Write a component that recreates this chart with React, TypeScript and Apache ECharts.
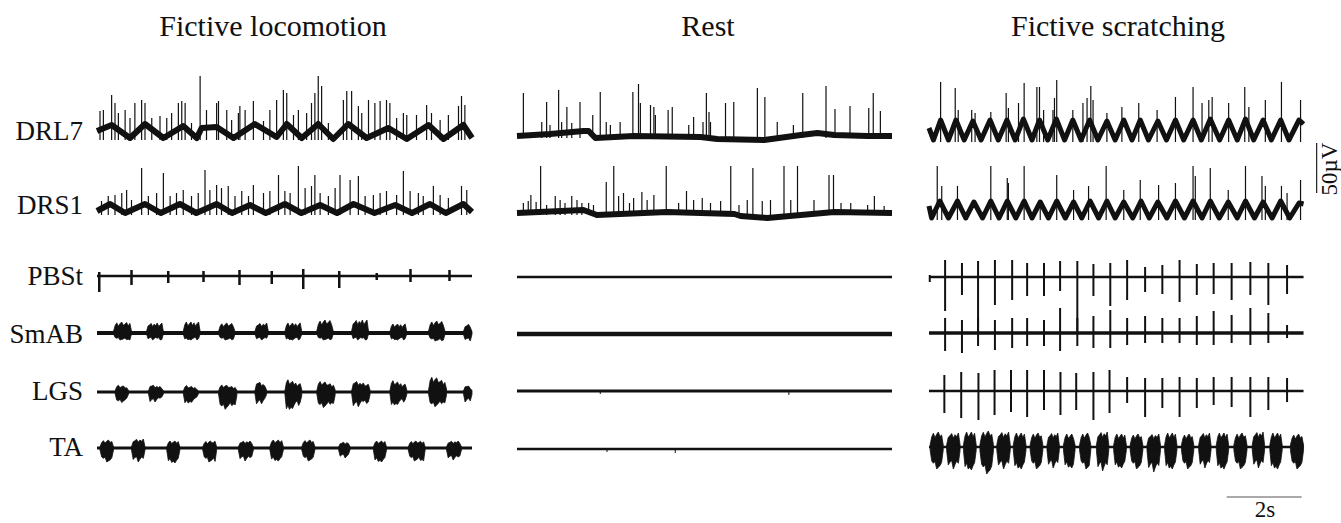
import React, { useEffect, useRef } from "react";
import * as echarts from "echarts";

// ---------- categories ----------
const panelTitles = ["Fictive locomotion", "Rest", "Fictive scratching"];
const channelNames = ["DRL7", "DRS1", "PBSt", "SmAB", "LGS", "TA"];

// ---------- scale bars ----------
const scaleBarSeconds = 2;
const scaleBarMicroVolts = 50;
const scaleBarLabels = ["2s", "50µV"];

// ---------- Fictive locomotion ----------
// slow waves: [time s, µV above trough]
const locoDRL7Wave = [[0, 7], [0.39, 13], [0.88, 0], [1.28, 14], [1.77, 0], [2.3, 12], [2.66, 0], [2.79, 10], [3.19, 11], [3.64, 0], [4.21, 14], [4.79, 1], [5.06, 14], [5.46, 0], [5.9, 14], [6.3, -1], [6.7, 14], [7.19, 0], [7.77, 10], [8.26, -1], [8.84, 13], [9.24, -1], [9.77, 13], [10, 0]];
// spikes: [time s, peak µV]
const locoDRL7Spikes = [[0.08, 27], [0.17, 28], [0.39, 43], [0.48, 35], [0.57, 25], [0.75, 28], [0.88, 20], [1.01, 35], [1.19, 38], [1.28, 35], [1.46, 20], [1.68, 22], [1.86, 20], [1.99, 25], [2.17, 35], [2.26, 37], [2.35, 35], [2.52, 15], [2.75, 62], [2.92, 28], [3.19, 35], [3.24, 37], [3.46, 28], [3.59, 18], [3.77, 25], [3.81, 32], [3.95, 28], [4.17, 37], [4.44, 17], [4.61, 28], [4.79, 38], [4.97, 48], [5.06, 45], [5.24, 23], [5.37, 28], [5.59, 25], [5.72, 35], [5.81, 45], [5.9, 62], [5.99, 52], [6.17, 15], [6.57, 38], [6.66, 47], [6.79, 47], [6.97, 32], [7.06, 25], [7.24, 38], [7.41, 35], [7.55, 37], [7.72, 38], [7.81, 35], [7.99, 20], [8.17, 25], [8.26, 23], [8.52, 23], [8.79, 33], [8.92, 25], [9.15, 18], [9.37, 23], [9.64, 32], [9.72, 42], [9.81, 33]];
const locoDRS1Wave = [[0, 2], [0.35, 9], [0.75, 0], [1.28, 9], [1.7, 0], [2.21, 9], [2.65, 0], [3.19, 9], [3.6, 0], [4.08, 8], [4.5, 0], [5.01, 9], [5.45, 0], [5.95, 8], [6.4, 0], [6.84, 9], [7.4, 0], [7.95, 8], [8.4, 0], [8.88, 9], [9.3, 0], [9.77, 9], [10, 1]];
const locoDRS1Spikes = [[0.12, 12], [0.3, 17], [0.48, 18], [0.66, 20], [0.79, 23], [0.92, 13], [1.19, 45], [1.37, 17], [1.59, 20], [1.77, 40], [1.95, 17], [2.12, 20], [2.3, 23], [2.52, 17], [2.7, 20], [2.88, 43], [3.01, 23], [3.19, 28], [3.32, 25], [3.5, 27], [3.68, 17], [3.86, 22], [4.04, 17], [4.17, 28], [4.44, 20], [4.61, 22], [4.84, 38], [5.01, 22], [5.15, 20], [5.37, 47], [5.55, 25], [5.72, 27], [5.81, 38], [5.95, 20], [6.17, 17], [6.35, 25], [6.48, 38], [6.75, 33], [6.97, 37], [7.15, 17], [7.37, 18], [7.55, 20], [7.72, 22], [7.99, 18], [8.17, 42], [8.35, 22], [8.57, 20], [8.7, 17], [8.97, 27], [9.15, 18], [9.37, 15], [9.72, 27], [9.86, 23]];
// EMG spikes: [time s, up µV, down µV]
const locoPBStSpikes = [[0.06, 4, 16], [0.92, 6, 9], [1.9, 5, 7], [2.84, 5, 6], [3.8, 6, 9], [4.66, 5, 8], [5.5, 7, 13], [6.46, 5, 12], [7.46, 3, 4], [8.36, 7, 6], [9.4, 6, 5]];
// EMG bursts: [start s, end s, up µV, down µV]
const locoSmABBursts = [[0.44, 0.92, 11, 7], [1.32, 1.77, 10, 7], [2.3, 2.75, 11, 7], [3.24, 3.68, 10, 7], [4.21, 4.57, 10, 7], [5.01, 5.46, 10, 7], [5.86, 6.3, 13, 7], [6.79, 7.24, 13, 7], [7.81, 8.26, 9, 7], [8.84, 9.28, 12, 8], [9.77, 10, 9, 8]];
const locoLGSBursts = [[0.48, 0.84, 8, 13], [1.37, 1.77, 8, 12], [2.3, 2.7, 7, 13], [3.24, 3.73, 8, 20], [4.21, 4.52, 12, 15], [5.01, 5.46, 13, 20], [5.86, 6.35, 12, 18], [6.79, 7.28, 12, 17], [7.81, 8.26, 12, 15], [8.84, 9.32, 17, 17], [9.77, 10, 8, 13]];
const locoTABursts = [[0.08, 0.44, 8, 14], [0.92, 1.28, 9, 14], [1.86, 2.21, 7, 15], [2.82, 3.19, 7, 14], [3.77, 4.17, 7, 13], [4.61, 4.97, 8, 13], [5.46, 5.81, 8, 13], [6.44, 6.75, 6, 10], [7.37, 7.72, 7, 14], [8.3, 8.75, 7, 13], [9.32, 9.72, 7, 12]];

// ---------- Rest ----------
const restDRL7Wave = [[0, 0], [0.88, 2], [1.77, 5], [1.91, 5], [2.09, -2], [3.11, 0], [4.89, -1], [5.34, -3], [6.59, -4], [7.57, 1], [8.01, 3], [8.46, 1], [9.35, 0], [10, 0]];
const restDRL7Spikes = [[0.17, 43], [0.66, 14], [0.79, 34], [0.88, 11], [1.11, 46], [1.19, 14], [1.33, 29], [1.46, 13], [1.68, 34], [2.02, 21], [2.22, 44], [2.38, 14], [2.49, 11], [2.75, 14], [3.09, 44], [3.24, 52], [3.29, 33], [3.56, 31], [3.65, 29], [3.69, 21], [4.03, 26], [4.14, 29], [4.58, 11], [4.71, 19], [4.96, 14], [5.05, 43], [5.12, 24], [5.16, 14], [5.56, 33], [5.78, 34], [6.41, 48], [6.61, 39], [6.94, 14], [7.37, 11], [7.62, 43], [8.24, 50], [8.48, 27], [8.88, 30], [9.38, 28], [9.5, 43], [9.69, 25]];
const restDRS1Wave = [[0, 0], [1.77, 3], [2.13, -2], [4.0, 1], [5.8, -1], [5.96, -3], [6.67, -5], [7.57, -2], [8.46, 1], [10, 0]];
const restDRS1Spikes = [[0.17, 10], [0.3, 12], [0.37, 18], [0.51, 11], [0.63, 47], [0.79, 8], [1.02, 17], [1.15, 13], [1.28, 10], [1.46, 17], [1.6, 13], [1.73, 10], [1.91, 10], [2.04, 8], [2.38, 31], [2.58, 47], [2.71, 17], [2.84, 20], [3.0, 10], [3.11, 15], [3.33, 21], [3.47, 13], [3.65, 18], [3.98, 47], [4.31, 10], [4.52, 22], [4.71, 13], [4.94, 15], [5.16, 10], [5.43, 12], [5.7, 47], [5.92, 8], [6.14, 13], [6.29, 45], [6.54, 12], [6.76, 13], [7.12, 47], [7.3, 13], [7.48, 47], [7.92, 13], [8.32, 38], [8.44, 38], [8.64, 10], [8.9, 10], [9.35, 8], [9.53, 17], [9.79, 7]];
const restLGSBlips = [[2.22, 1, 3], [7.25, 1, 4]];
const restTABlips = [[2.4, 1, 3], [4.22, 1, 4]];

// ---------- Fictive scratching ----------
const scrDRL7Wave = [[0, 12], [0.12, 0], [0.31, 20], [0.52, 0], [0.72, 20], [0.94, 0], [1.17, 19], [1.39, 0], [1.63, 20], [1.85, 0], [2.08, 20], [2.3, 0], [2.52, 21], [2.75, 0], [2.95, 20], [3.17, 0], [3.4, 21], [3.62, 0], [3.84, 20], [4.06, 0], [4.29, 20], [4.51, 0], [4.75, 19], [4.97, 0], [5.2, 20], [5.42, 0], [5.64, 20], [5.86, 0], [6.11, 19], [6.34, 0], [6.58, 20], [6.8, 0], [7.05, 20], [7.27, 0], [7.51, 21], [7.76, 0], [8.0, 20], [8.23, 0], [8.45, 21], [8.67, 0], [8.92, 20], [9.14, 0], [9.39, 20], [9.61, 0], [9.88, 20], [10, 16]];
const scrDRL7Spikes = [[0.31, 58], [0.7, 52], [0.78, 30], [1.14, 30], [1.23, 27], [1.65, 28], [2.06, 47], [2.12, 32], [2.39, 37], [2.54, 57], [2.88, 53], [2.95, 53], [3.06, 30], [3.31, 30], [3.35, 42], [3.41, 60], [3.84, 30], [4.11, 37], [4.22, 42], [4.32, 54], [4.38, 40], [4.75, 27], [5.15, 33], [5.6, 37], [6.09, 30], [6.58, 43], [7.05, 53], [7.29, 37], [7.47, 40], [7.56, 43], [8.0, 37], [8.43, 53], [8.54, 33], [8.98, 40], [9.41, 58], [9.92, 40]];
const scrDRS1Wave = [[0, 12], [0.07, 0], [0.29, 17], [0.52, 0], [0.76, 17], [0.98, 0], [1.2, 16], [1.43, 0], [1.65, 17], [1.87, 0], [2.09, 17], [2.32, 0], [2.54, 17], [2.75, 0], [2.97, 16], [3.19, 0], [3.41, 17], [3.64, 0], [3.86, 16], [4.08, 0], [4.3, 17], [4.53, 0], [4.75, 17], [4.97, 0], [5.2, 16], [5.44, 0], [5.66, 17], [5.88, 0], [6.11, 16], [6.35, 0], [6.58, 17], [6.82, 0], [7.05, 17], [7.29, 0], [7.51, 17], [7.75, 0], [7.99, 16], [8.23, 0], [8.45, 17], [8.69, 0], [8.92, 16], [9.16, 0], [9.39, 17], [9.63, 0], [9.88, 15], [10, 14]];
const scrDRS1Spikes = [[0.22, 52], [0.34, 32], [0.76, 32], [1.65, 52], [2.09, 40], [2.12, 35], [2.54, 52], [2.97, 18], [3.41, 43], [3.86, 28], [4.26, 32], [4.73, 52], [5.2, 28], [5.64, 38], [6.13, 33], [6.58, 35], [7.05, 52], [7.11, 42], [7.51, 50], [7.99, 28], [8.45, 52], [8.89, 42], [8.98, 32], [9.41, 32], [9.56, 25], [9.92, 38]];
const scrPBStSpikes = [[0.02, 2, 5], [0.43, 17, 34], [0.88, 14, 18], [1.31, 16, 54], [1.76, 17, 28], [2.22, 17, 23], [2.62, 14, 19], [3.07, 14, 19], [3.5, 16, 14], [3.96, 16, 54], [4.39, 13, 19], [4.84, 14, 29], [5.29, 17, 23], [5.77, 10, 15], [6.23, 12, 17], [6.69, 17, 25], [7.15, 13, 18], [7.6, 14, 17], [8.08, 14, 23], [8.58, 15, 18], [9.06, 14, 28], [9.56, 12, 17]];
const scrSmABSpikes = [[0.43, 15, 18], [0.88, 13, 20], [1.31, 15, 13], [1.76, 13, 17], [2.22, 15, 15], [2.62, 15, 13], [3.07, 13, 13], [3.5, 25, 18], [3.96, 15, 13], [4.39, 17, 15], [4.84, 23, 15], [5.29, 15, 12], [5.77, 17, 10], [6.23, 15, 10], [6.69, 15, 10], [7.15, 17, 12], [7.6, 22, 12], [8.08, 18, 10], [8.58, 25, 12], [9.06, 20, 10], [9.56, 8, 5]];
const scrLGSSpikes = [[0.41, 16, 22], [0.86, 19, 27], [1.32, 18, 29], [1.75, 21, 24], [2.19, 21, 21], [2.62, 21, 26], [3.07, 21, 19], [3.51, 19, 24], [3.93, 18, 19], [4.39, 19, 29], [4.82, 21, 22], [5.29, 14, 12], [5.77, 13, 26], [6.23, 13, 17], [6.69, 14, 26], [7.15, 13, 17], [7.6, 14, 14], [8.08, 14, 16], [8.58, 14, 26], [9.06, 14, 19], [9.56, 13, 11]];
const scrTABursts = [[0.03, 0.38, 15, 22], [0.47, 0.83, 14, 22], [0.92, 1.26, 15, 23], [1.36, 1.72, 16, 27], [1.81, 2.17, 15, 22], [2.25, 2.59, 14, 22], [2.7, 3.04, 14, 22], [3.15, 3.48, 14, 21], [3.59, 3.9, 13, 21], [4.02, 4.32, 14, 22], [4.47, 4.8, 15, 24], [4.93, 5.27, 13, 21], [5.37, 5.71, 13, 22], [5.82, 6.18, 13, 25], [6.29, 6.62, 14, 22], [6.74, 7.07, 13, 22], [7.2, 7.53, 14, 21], [7.67, 8.0, 14, 22], [8.14, 8.49, 14, 22], [8.63, 8.96, 15, 21], [9.1, 9.43, 14, 22], [9.65, 10.0, 13, 22]];

const flatTrace = [[0, 0], [10, 0]];

// ---------- layout & style (pixels) ----------
const W = 1341;
const H = 523;
const panelLeft = [97, 517, 929];
const panelWidth = 375;
const panelSeconds = 10;
const rowY = [
  [138, 213, 276, 333, 392, 448],
  [136, 213, 277, 334, 391, 449],
  [140, 218, 277, 333, 391, 447],
];
const titleX = [273, 708, 1118];
const labelY = [131, 205, 276, 334, 391, 447];
const INK = "#111";
const FAMILY = "Liberation Serif";
// ragged edge texture used to draw the outline of an EMG burst
const burstTexture = [1, 0.68, 0.92, 0.62, 0.85, 1, 0.7, 0.8, 0.96, 0.64, 0.88, 0.74, 1, 0.66, 0.82];

type Trace = {
  wave?: number[][];
  waveWidth?: number;
  spikes?: number[][];
  bipolar?: number[][];
  bipolarWidth?: number;
  bursts?: number[][];
  burstShape?: "decay" | "block";
};

const panelTraces: Trace[][] = [
  [
    { wave: locoDRL7Wave, waveWidth: 6, spikes: locoDRL7Spikes },
    { wave: locoDRS1Wave, waveWidth: 6, spikes: locoDRS1Spikes },
    { wave: flatTrace, waveWidth: 2.5, bipolar: locoPBStSpikes, bipolarWidth: 2.5 },
    { wave: flatTrace, waveWidth: 4, bursts: locoSmABBursts, burstShape: "block" },
    { wave: flatTrace, waveWidth: 3, bursts: locoLGSBursts, burstShape: "decay" },
    { wave: flatTrace, waveWidth: 3, bursts: locoTABursts, burstShape: "block" },
  ],
  [
    { wave: restDRL7Wave, waveWidth: 6, spikes: restDRL7Spikes },
    { wave: restDRS1Wave, waveWidth: 6, spikes: restDRS1Spikes },
    { wave: flatTrace, waveWidth: 2.5 },
    { wave: flatTrace, waveWidth: 4.5 },
    { wave: flatTrace, waveWidth: 3, bipolar: restLGSBlips, bipolarWidth: 1 },
    { wave: flatTrace, waveWidth: 2.5, bipolar: restTABlips, bipolarWidth: 1 },
  ],
  [
    { wave: scrDRL7Wave, waveWidth: 5, spikes: scrDRL7Spikes },
    { wave: scrDRS1Wave, waveWidth: 5, spikes: scrDRS1Spikes },
    { wave: flatTrace, waveWidth: 2.5, bipolar: scrPBStSpikes, bipolarWidth: 2 },
    { wave: flatTrace, waveWidth: 3.5, bipolar: scrSmABSpikes, bipolarWidth: 2 },
    { wave: flatTrace, waveWidth: 2.5, bipolar: scrLGSSpikes, bipolarWidth: 2 },
    { wave: flatTrace, waveWidth: 2.5, bursts: scrTABursts, burstShape: "block" },
  ],
];

function lineRender(width: number) {
  return (_params: any, api: any) => {
    const a = api.coord([api.value(0), api.value(1)]);
    const b = api.coord([api.value(0), api.value(2)]);
    return {
      type: "line",
      shape: { x1: a[0], y1: a[1], x2: b[0], y2: b[1] },
      style: { stroke: INK, lineWidth: width },
    };
  };
}

function envelope(shape: "decay" | "block", u: number) {
  if (shape === "decay") {
    if (u < 0.05) return 0.3 + 0.7 * (u / 0.05);
    return 1 - 0.4 * ((u - 0.05) / 0.95);
  }
  const edge = Math.min(u, 1 - u);
  return edge < 0.08 ? 0.5 + 0.5 * (edge / 0.08) : 1;
}

// burst envelope: data [t0, t1, lo, hi, base]
function burstRender(shape: "decay" | "block") {
  return (params: any, api: any) => {
    const t0 = api.value(0);
    const t1 = api.value(1);
    const lo = api.value(2);
    const hi = api.value(3);
    const base = api.value(4);
    const pa = api.coord([t0, base]);
    const pb = api.coord([t1, base]);
    const pHi = api.coord([t0, hi]);
    const pLo = api.coord([t0, lo]);
    const upPx = pa[1] - pHi[1];
    const dnPx = pLo[1] - pa[1];
    const wPx = pb[0] - pa[0];
    const n = Math.max(2, Math.round(wPx / 1.6));
    const off = (params.dataIndex * 5) % burstTexture.length;
    const top: number[][] = [];
    const bottom: number[][] = [];
    for (let i = 0; i <= n; i++) {
      const u = i / n;
      const x = pa[0] + u * wPx;
      const e = envelope(shape, u);
      const kt = i === 0 || i === n ? 0.3 : burstTexture[(i + off) % burstTexture.length];
      const kb = i === 0 || i === n ? 0.3 : burstTexture[(i * 2 + off + 7) % burstTexture.length];
      top.push([x, pa[1] - upPx * e * kt]);
      bottom.push([x, pa[1] + dnPx * e * kb]);
    }
    const points = top.concat(bottom.reverse());
    return {
      type: "polygon",
      shape: { points },
      style: { fill: INK, stroke: INK, lineWidth: 0.8 },
    };
  };
}

function textStyle(text: string, size: number, align: string) {
  return {
    text,
    fill: INK,
    fontFamily: FAMILY,
    fontSize: size,
    align,
    verticalAlign: "middle",
    textAlign: align,
    textVerticalAlign: "middle",
  };
}

function buildOption() {
  const grid: any[] = [];
  const xAxis: any[] = [];
  const yAxis: any[] = [];
  const series: any[] = [];

  panelTitles.forEach((_, p) => {
    const extra = p === 2 ? 1 : 0;
    grid.push({ left: panelLeft[p], top: 0, width: (panelWidth * (panelSeconds + extra)) / panelSeconds, height: H });
    xAxis.push({ type: "value", gridIndex: p, min: 0, max: panelSeconds + extra, show: false });
    yAxis.push({ type: "value", gridIndex: p, min: -H, max: 0, show: false });

    panelTraces[p].forEach((tr, c) => {
      const base = -rowY[p][c];
      if (tr.wave) {
        series.push({
          type: "line",
          xAxisIndex: p,
          yAxisIndex: p,
          data: tr.wave.map(([t, v]) => [t, base + v]),
          showSymbol: false,
          silent: true,
          lineStyle: { color: INK, width: tr.waveWidth, join: "round", cap: "butt" },
        });
      }
      if (tr.spikes) {
        series.push({
          type: "custom",
          xAxisIndex: p,
          yAxisIndex: p,
          silent: true,
          renderItem: lineRender(1.2),
          encode: { x: 0, y: [1, 2] },
          data: tr.spikes.map(([t, h]) => [t, base - 2, base + h]),
        });
      }
      if (tr.bipolar) {
        series.push({
          type: "custom",
          xAxisIndex: p,
          yAxisIndex: p,
          silent: true,
          renderItem: lineRender(tr.bipolarWidth || 1.5),
          encode: { x: 0, y: [1, 2] },
          data: tr.bipolar.map(([t, up, down]) => [t, base - down, base + up]),
        });
      }
      if (tr.bursts) {
        series.push({
          type: "custom",
          xAxisIndex: p,
          yAxisIndex: p,
          silent: true,
          renderItem: burstRender(tr.burstShape || "block"),
          encode: { x: [0, 1], y: [2, 3] },
          data: tr.bursts.map(([t0, t1, up, down]) => [t0, t1, base - down, base + up, base]),
        });
      }
    });
  });

  // scale bars, drawn in the scratching panel's coordinates
  const vBarT = 10.35;
  const vBarTop = -143;
  series.push({
    type: "line",
    xAxisIndex: 2,
    yAxisIndex: 2,
    showSymbol: false,
    silent: true,
    lineStyle: { color: "#222", width: 1.2 },
    data: [[vBarT, vBarTop], [vBarT, vBarTop - scaleBarMicroVolts]],
  });
  const hBarStart = 7.95;
  const hBarY = -497;
  series.push({
    type: "line",
    xAxisIndex: 2,
    yAxisIndex: 2,
    showSymbol: false,
    silent: true,
    lineStyle: { color: "#555", width: 1 },
    data: [[hBarStart, hBarY], [hBarStart + scaleBarSeconds, hBarY]],
  });

  const graphic: any[] = [];
  panelTitles.forEach((t, p) => {
    graphic.push({ type: "text", x: titleX[p], y: 25, silent: true, style: textStyle(t, 30, "center") });
  });
  channelNames.forEach((n, c) => {
    graphic.push({ type: "text", x: 83, y: labelY[c], silent: true, style: textStyle(n, 27, "right") });
  });
  graphic.push({ type: "text", x: 1265, y: 509, silent: true, style: textStyle(scaleBarLabels[0], 23, "center") });
  graphic.push({
    type: "text",
    x: 1329,
    y: 169,
    rotation: Math.PI / 2,
    silent: true,
    style: textStyle(scaleBarLabels[1], 23, "center"),
  });

  return {
    animation: false,
    backgroundColor: "#ffffff",
    grid,
    xAxis,
    yAxis,
    series,
    graphic,
  };
}

export default function App() {
  const ref = useRef<HTMLDivElement>(null);
  useEffect(() => {
    document.body.style.margin = "0";
    if (!ref.current) return;
    const chart = echarts.init(ref.current, undefined, { renderer: "svg" });
    chart.setOption(buildOption() as any);
    return () => chart.dispose();
  }, []);
  return <div ref={ref} style={{ width: W, height: H }} />;
}
